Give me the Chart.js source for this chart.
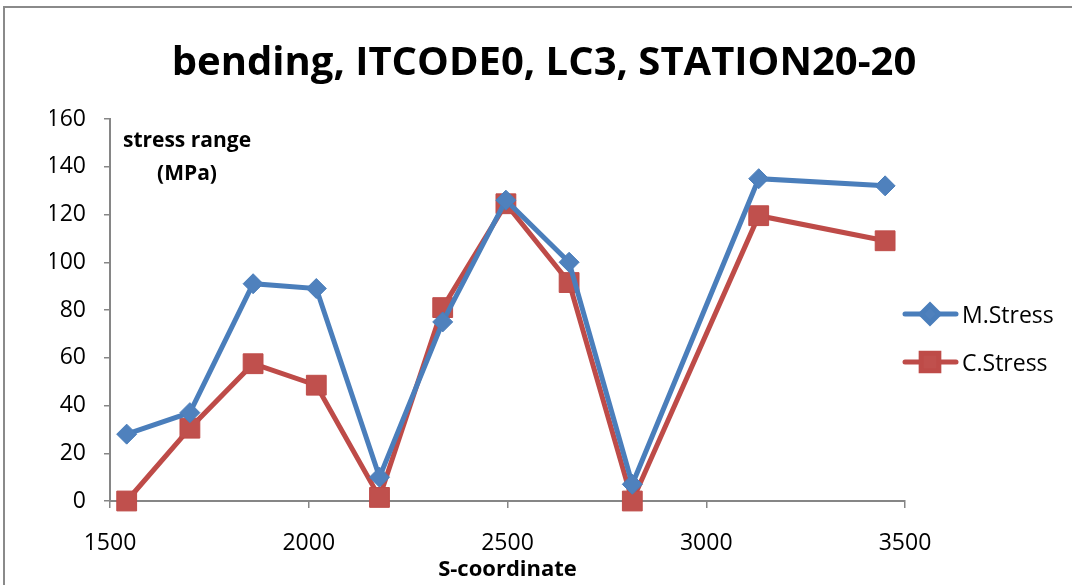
<!DOCTYPE html>
<html>
<head>
<meta charset="utf-8">
<title>bending, ITCODE0, LC3, STATION20-20</title>
<script src="https://cdn.jsdelivr.net/npm/chart.js@4.4.1/dist/chart.umd.min.js"></script>
<style>
  html, body { margin: 0; padding: 0; background: #ffffff; }
  #wrap { position: absolute; left: 0; top: 0; width: 1072px; height: 585px; }
</style>
</head>
<body>
<div id="wrap"><canvas id="chart" width="1072" height="585"></canvas></div>
<script>
// ---- data ----
const chartTitle = 'bending, ITCODE0, LC3, STATION20-20';
const yCaption = ['stress range', '(MPa)'];
const xCaption = 'S-coordinate';
const seriesNames = ['M.Stress', 'C.Stress'];
const sCoordinate = [1542, 1701, 1860, 2019, 2178, 2337, 2496, 2655, 2814, 3132, 3450];
const mStress = [28, 37, 91, 89, 10, 75, 126, 100, 7, 135, 132];
const cStress = [0, 30.5, 57.5, 48.5, 1.5, 81, 124.5, 91.5, 0, 119.5, 109];
const xTickValues = [1500, 2000, 2500, 3000, 3500];
const yTickValues = [0, 20, 40, 60, 80, 100, 120, 140, 160];

const FONT = "'Open Sans', 'DejaVu Sans', sans-serif";
const AXIS_GREY = '#868686';
const BLUE_LINE = '#4A7EBB', BLUE_FILL = '#4F81BD';
const RED_LINE = '#BE4B48', RED_FILL = '#C0504D';

Chart.defaults.font.family = FONT;
Chart.defaults.color = '#000000';

const toPoints = (xs, ys) => xs.map((x, i) => ({ x: x, y: ys[i] }));

// Frame, title, y caption and the line+marker legend on the right
const decorations = {
  id: 'decorations',
  beforeDraw(chart) {
    const ctx = chart.ctx;
    ctx.save();
    ctx.fillStyle = '#ffffff';
    ctx.fillRect(0, 0, chart.width, chart.height);
    ctx.strokeStyle = '#8a8a8a';
    ctx.lineWidth = 2;
    ctx.beginPath();
    ctx.moveTo(4, chart.height + 5);
    ctx.lineTo(4, 7);
    ctx.lineTo(chart.width + 5, 7);
    ctx.stroke();
    ctx.restore();
  },
  afterDraw(chart) {
    const ctx = chart.ctx;
    const area = chart.chartArea;
    ctx.save();
    ctx.fillStyle = '#000000';

    // chart title
    ctx.font = "bold 40px " + FONT;
    ctx.textAlign = 'center';
    ctx.textBaseline = 'alphabetic';
    ctx.fillText(chartTitle, 544, 75);

    // value-axis caption inside the plot
    ctx.font = "bold 21px " + FONT;
    ctx.fillText(yCaption[0], area.left + 77, 147);
    ctx.fillText(yCaption[1], area.left + 77, 180);

    // legend
    const rows = [323, 371];
    chart.data.datasets.forEach((ds, i) => {
      const base = rows[i];
      const cy = base - 9;
      ctx.strokeStyle = ds.borderColor;
      ctx.lineWidth = 5;
      ctx.lineCap = 'round';
      ctx.beginPath();
      ctx.moveTo(905, cy);
      ctx.lineTo(956, cy);
      ctx.stroke();
      ctx.fillStyle = ds.pointBackgroundColor;
      ctx.strokeStyle = ds.pointBorderColor;
      Chart.helpers.drawPoint(ctx, {
        pointStyle: ds.pointStyle,
        radius: ds.legendRadius,
        borderWidth: 1,
        rotation: 0
      }, 930, cy);
      ctx.fillStyle = '#000000';
      ctx.font = "23px " + FONT;
      ctx.textAlign = 'left';
      ctx.textBaseline = 'alphabetic';
      ctx.fillText(ds.label, 962, base);
    });
    ctx.restore();
  }
};

new Chart(document.getElementById('chart'), {
  type: 'line',
  data: {
    datasets: [
      {
        label: seriesNames[0],
        data: toPoints(sCoordinate, mStress),
        borderColor: BLUE_LINE,
        backgroundColor: BLUE_FILL,
        borderWidth: 5,
        pointStyle: 'rectRot',
        pointRadius: 10,
        legendRadius: 9,
        pointBackgroundColor: BLUE_FILL,
        pointBorderColor: BLUE_LINE,
        pointBorderWidth: 1,
        tension: 0,
        clip: false
      },
      {
        label: seriesNames[1],
        data: toPoints(sCoordinate, cStress),
        borderColor: RED_LINE,
        backgroundColor: RED_FILL,
        borderWidth: 5,
        pointStyle: 'rect',
        pointRadius: 14,
        legendRadius: 12.5,
        pointBackgroundColor: RED_FILL,
        pointBorderColor: RED_LINE,
        pointBorderWidth: 1,
        tension: 0,
        clip: false
      }
    ]
  },
  options: {
    responsive: false,
    animation: false,
    devicePixelRatio: 1,
    layout: { padding: { left: 50, right: 167, top: 119, bottom: 0 } },
    plugins: {
      legend: { display: false },
      title: { display: false },
      tooltip: { enabled: false }
    },
    scales: {
      x: {
        type: 'linear',
        min: 1500,
        max: 3500,
        afterBuildTicks(scale) { scale.ticks = xTickValues.map(v => ({ value: v })); },
        afterFit(scale) { scale.height = 84; },
        grid: { drawOnChartArea: false, drawTicks: true, tickLength: 7, color: AXIS_GREY, lineWidth: 1.5 },
        border: { display: true, color: AXIS_GREY, width: 2 },
        ticks: { padding: 22, font: { size: 23 }, color: '#000000', maxRotation: 0, callback: v => String(v) },
        title: { display: true, text: xCaption, font: { size: 22, weight: 'bold' }, color: '#000000', padding: { top: 0, bottom: 2 } }
      },
      y: {
        type: 'linear',
        min: 0,
        max: 160,
        afterBuildTicks(scale) { scale.ticks = yTickValues.map(v => ({ value: v })); },
        afterFit(scale) { scale.width = 60; },
        grid: { drawOnChartArea: false, drawTicks: true, tickLength: 6, color: AXIS_GREY, lineWidth: 1.5 },
        border: { display: true, color: AXIS_GREY, width: 2 },
        ticks: { padding: 18, font: { size: 23 }, color: '#000000', callback: v => String(v) }
      }
    }
  },
  plugins: [decorations]
});
</script>
</body>
</html>
